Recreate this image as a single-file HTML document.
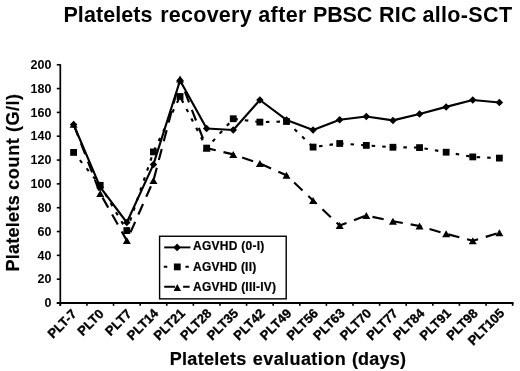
<!DOCTYPE html><html><head><meta charset="utf-8"><style>html,body{margin:0;padding:0;background:#fff;}svg{display:block;filter:grayscale(1);}</style></head><body><svg width="520" height="371" viewBox="0 0 520 371" font-family="'Liberation Sans', sans-serif" font-weight="bold">
<rect width="520" height="371" fill="#fff"/>
<text x="63.40" y="21.6" font-size="21.5" letter-spacing="0.087">Platelets</text>
<text x="160.20" y="21.6" font-size="21.5" letter-spacing="0.257">recovery</text>
<text x="258.20" y="21.6" font-size="21.5" letter-spacing="0.425">after</text>
<text x="313.00" y="21.6" font-size="21.5" letter-spacing="-0.133">PBSC</text>
<text x="379.05" y="21.6" font-size="21.5" letter-spacing="0.175">RIC</text>
<text x="422.40" y="21.6" font-size="21.5" letter-spacing="0.357">allo-SCT</text>
<text x="169.75" y="364.6" font-size="18" stroke="#000" stroke-width="0.2" letter-spacing="0.300">Platelets</text>
<text x="252.75" y="364.6" font-size="18" stroke="#000" stroke-width="0.2" letter-spacing="0.428">evaluation</text>
<text x="351.90" y="364.6" font-size="18" stroke="#000" stroke-width="0.2" letter-spacing="0.220">(days)</text>
<text transform="translate(18.9 271.55) rotate(-90)" font-size="18" stroke="#000" stroke-width="0.2" letter-spacing="0.275">Platelets</text>
<text transform="translate(18.9 189.85) rotate(-90)" font-size="18" stroke="#000" stroke-width="0.2" letter-spacing="0.675">count</text>
<text transform="translate(18.9 131.90) rotate(-90)" font-size="18" stroke="#000" stroke-width="0.2" letter-spacing="0.450">(G/l)</text>
<text x="51.4" y="307.25" font-size="12.5" text-anchor="end">0</text>
<text x="51.4" y="283.43" font-size="12.5" text-anchor="end">20</text>
<text x="51.4" y="259.60" font-size="12.5" text-anchor="end">40</text>
<text x="51.4" y="235.78" font-size="12.5" text-anchor="end">60</text>
<text x="51.4" y="211.95" font-size="12.5" text-anchor="end">80</text>
<text x="51.4" y="188.12" font-size="12.5" text-anchor="end">100</text>
<text x="51.4" y="164.30" font-size="12.5" text-anchor="end">120</text>
<text x="51.4" y="140.48" font-size="12.5" text-anchor="end">140</text>
<text x="51.4" y="116.65" font-size="12.5" text-anchor="end">160</text>
<text x="51.4" y="92.83" font-size="12.5" text-anchor="end">180</text>
<text x="51.4" y="69.00" font-size="12.5" text-anchor="end">200</text>
<text x="77.40" y="314.70" font-size="13" stroke="#000" stroke-width="0.35" text-anchor="end" transform="rotate(-45 77.40 314.70)">PLT-7</text>
<text x="104.61" y="314.60" font-size="13" stroke="#000" stroke-width="0.35" text-anchor="end" transform="rotate(-45 104.61 314.60)">PLT0</text>
<text x="132.43" y="314.60" font-size="13" stroke="#000" stroke-width="0.35" text-anchor="end" transform="rotate(-45 132.43 314.60)">PLT7</text>
<text x="159.24" y="314.00" font-size="13" stroke="#000" stroke-width="0.35" text-anchor="end" transform="rotate(-45 159.24 314.00)">PLT14</text>
<text x="185.85" y="314.00" font-size="13" stroke="#000" stroke-width="0.35" text-anchor="end" transform="rotate(-45 185.85 314.00)">PLT21</text>
<text x="212.45" y="314.00" font-size="13" stroke="#000" stroke-width="0.35" text-anchor="end" transform="rotate(-45 212.45 314.00)">PLT28</text>
<text x="239.06" y="314.00" font-size="13" stroke="#000" stroke-width="0.35" text-anchor="end" transform="rotate(-45 239.06 314.00)">PLT35</text>
<text x="265.68" y="314.00" font-size="13" stroke="#000" stroke-width="0.35" text-anchor="end" transform="rotate(-45 265.68 314.00)">PLT42</text>
<text x="292.29" y="314.00" font-size="13" stroke="#000" stroke-width="0.35" text-anchor="end" transform="rotate(-45 292.29 314.00)">PLT49</text>
<text x="318.89" y="314.00" font-size="13" stroke="#000" stroke-width="0.35" text-anchor="end" transform="rotate(-45 318.89 314.00)">PLT56</text>
<text x="345.50" y="314.00" font-size="13" stroke="#000" stroke-width="0.35" text-anchor="end" transform="rotate(-45 345.50 314.00)">PLT63</text>
<text x="372.12" y="314.00" font-size="13" stroke="#000" stroke-width="0.35" text-anchor="end" transform="rotate(-45 372.12 314.00)">PLT70</text>
<text x="398.73" y="314.00" font-size="13" stroke="#000" stroke-width="0.35" text-anchor="end" transform="rotate(-45 398.73 314.00)">PLT77</text>
<text x="425.34" y="314.00" font-size="13" stroke="#000" stroke-width="0.35" text-anchor="end" transform="rotate(-45 425.34 314.00)">PLT84</text>
<text x="451.94" y="314.00" font-size="13" stroke="#000" stroke-width="0.35" text-anchor="end" transform="rotate(-45 451.94 314.00)">PLT91</text>
<text x="478.56" y="314.00" font-size="13" stroke="#000" stroke-width="0.35" text-anchor="end" transform="rotate(-45 478.56 314.00)">PLT98</text>
<text x="505.17" y="314.00" font-size="13" stroke="#000" stroke-width="0.35" text-anchor="end" transform="rotate(-45 505.17 314.00)">PLT105</text>
<g stroke="#000" fill="none">
<path d="M60.3 64.2V305.8" stroke-width="1.7"/>
<path d="M56.8 303.00H60.3" stroke-width="1.6"/>
<path d="M56.8 279.18H60.3" stroke-width="1.6"/>
<path d="M56.8 255.35H60.3" stroke-width="1.6"/>
<path d="M56.8 231.53H60.3" stroke-width="1.6"/>
<path d="M56.8 207.70H60.3" stroke-width="1.6"/>
<path d="M56.8 183.88H60.3" stroke-width="1.6"/>
<path d="M56.8 160.05H60.3" stroke-width="1.6"/>
<path d="M56.8 136.23H60.3" stroke-width="1.6"/>
<path d="M56.8 112.40H60.3" stroke-width="1.6"/>
<path d="M56.8 88.58H60.3" stroke-width="1.6"/>
<path d="M56.8 64.75H60.3" stroke-width="1.6"/>
<path d="M56.8 303H513.5" stroke-width="2"/>
<path d="M60.30 303V305.8" stroke-width="1.6"/>
<path d="M86.91 303V305.8" stroke-width="1.6"/>
<path d="M113.52 303V305.8" stroke-width="1.6"/>
<path d="M140.13 303V305.8" stroke-width="1.6"/>
<path d="M166.74 303V305.8" stroke-width="1.6"/>
<path d="M193.35 303V305.8" stroke-width="1.6"/>
<path d="M219.96 303V305.8" stroke-width="1.6"/>
<path d="M246.57 303V305.8" stroke-width="1.6"/>
<path d="M273.18 303V305.8" stroke-width="1.6"/>
<path d="M299.79 303V305.8" stroke-width="1.6"/>
<path d="M326.40 303V305.8" stroke-width="1.6"/>
<path d="M353.01 303V305.8" stroke-width="1.6"/>
<path d="M379.62 303V305.8" stroke-width="1.6"/>
<path d="M406.23 303V305.8" stroke-width="1.6"/>
<path d="M432.84 303V305.8" stroke-width="1.6"/>
<path d="M459.45 303V305.8" stroke-width="1.6"/>
<path d="M486.06 303V305.8" stroke-width="1.6"/>
<path d="M512.67 303V305.8" stroke-width="1.6"/>
</g>
<g fill="none" stroke="#000" stroke-width="2.15" stroke-linejoin="round">
<polyline points="73.60,124.50 100.22,187.20 126.83,222.50 153.44,164.40 180.05,80.50 206.65,128.50 233.26,130.00 259.88,100.00 286.49,119.90 313.09,130.00 339.70,119.80 366.31,116.50 392.93,120.40 419.54,114.00 446.14,106.90 472.75,100.00 499.37,102.50"/>
<polyline points="73.60,152.40 100.22,185.30 126.83,230.60 153.44,151.90 180.05,96.50 206.65,148.10 233.26,118.75 259.88,122.10 286.49,121.50 313.09,147.10 339.70,143.50 366.31,145.40 392.93,147.25 419.54,147.60 446.14,152.20 472.75,156.90 499.37,158.10" stroke-dasharray="3.5 7.085" stroke-dashoffset="0.585"/>
<polyline points="73.60,124.25 100.22,193.50 126.83,240.60 153.44,180.60 180.05,79.00 206.65,148.10 233.26,154.40 259.88,163.50 286.49,175.30 313.09,200.50 339.70,225.50 366.31,215.50 392.93,221.25 419.54,226.00 446.14,233.80 472.75,240.80 499.37,232.80" stroke-dasharray="11.5 7.96" stroke-dashoffset="18.36"/>
</g>
<g fill="#000">
<path d="M73.60 120.75L77.35 124.50L73.60 128.25L69.85 124.50Z"/>
<path d="M100.22 183.45L103.97 187.20L100.22 190.95L96.47 187.20Z"/>
<path d="M126.83 218.75L130.57 222.50L126.83 226.25L123.08 222.50Z"/>
<path d="M153.44 160.65L157.19 164.40L153.44 168.15L149.69 164.40Z"/>
<path d="M180.05 76.75L183.80 80.50L180.05 84.25L176.30 80.50Z"/>
<path d="M206.65 124.75L210.40 128.50L206.65 132.25L202.90 128.50Z"/>
<path d="M233.26 126.25L237.01 130.00L233.26 133.75L229.51 130.00Z"/>
<path d="M259.88 96.25L263.62 100.00L259.88 103.75L256.12 100.00Z"/>
<path d="M286.49 116.15L290.24 119.90L286.49 123.65L282.74 119.90Z"/>
<path d="M313.09 126.25L316.84 130.00L313.09 133.75L309.34 130.00Z"/>
<path d="M339.70 116.05L343.45 119.80L339.70 123.55L335.95 119.80Z"/>
<path d="M366.31 112.75L370.06 116.50L366.31 120.25L362.56 116.50Z"/>
<path d="M392.93 116.65L396.68 120.40L392.93 124.15L389.18 120.40Z"/>
<path d="M419.54 110.25L423.29 114.00L419.54 117.75L415.79 114.00Z"/>
<path d="M446.14 103.15L449.89 106.90L446.14 110.65L442.39 106.90Z"/>
<path d="M472.75 96.25L476.50 100.00L472.75 103.75L469.00 100.00Z"/>
<path d="M499.37 98.75L503.12 102.50L499.37 106.25L495.62 102.50Z"/>
<rect x="70.20" y="149.00" width="6.8" height="6.8"/>
<rect x="96.81" y="181.90" width="6.8" height="6.8"/>
<rect x="123.42" y="227.20" width="6.8" height="6.8"/>
<rect x="150.03" y="148.50" width="6.8" height="6.8"/>
<rect x="176.65" y="93.10" width="6.8" height="6.8"/>
<rect x="203.25" y="144.70" width="6.8" height="6.8"/>
<rect x="229.86" y="115.35" width="6.8" height="6.8"/>
<rect x="256.48" y="118.70" width="6.8" height="6.8"/>
<rect x="283.09" y="118.10" width="6.8" height="6.8"/>
<rect x="309.69" y="143.70" width="6.8" height="6.8"/>
<rect x="336.31" y="140.10" width="6.8" height="6.8"/>
<rect x="362.92" y="142.00" width="6.8" height="6.8"/>
<rect x="389.53" y="143.85" width="6.8" height="6.8"/>
<rect x="416.14" y="144.20" width="6.8" height="6.8"/>
<rect x="442.75" y="148.80" width="6.8" height="6.8"/>
<rect x="469.36" y="153.50" width="6.8" height="6.8"/>
<rect x="495.97" y="154.70" width="6.8" height="6.8"/>
<path d="M73.60 120.75L77.60 127.75L69.60 127.75Z"/>
<path d="M100.22 190.00L104.22 197.00L96.22 197.00Z"/>
<path d="M126.83 237.10L130.82 244.10L122.83 244.10Z"/>
<path d="M153.44 177.10L157.44 184.10L149.44 184.10Z"/>
<path d="M180.05 75.50L184.05 82.50L176.05 82.50Z"/>
<path d="M206.65 144.60L210.65 151.60L202.65 151.60Z"/>
<path d="M233.26 150.90L237.26 157.90L229.26 157.90Z"/>
<path d="M259.88 160.00L263.88 167.00L255.88 167.00Z"/>
<path d="M286.49 171.80L290.49 178.80L282.49 178.80Z"/>
<path d="M313.09 197.00L317.09 204.00L309.09 204.00Z"/>
<path d="M339.70 222.00L343.70 229.00L335.70 229.00Z"/>
<path d="M366.31 212.00L370.31 219.00L362.31 219.00Z"/>
<path d="M392.93 217.75L396.93 224.75L388.93 224.75Z"/>
<path d="M419.54 222.50L423.54 229.50L415.54 229.50Z"/>
<path d="M446.14 230.30L450.14 237.30L442.14 237.30Z"/>
<path d="M472.75 237.30L476.75 244.30L468.75 244.30Z"/>
<path d="M499.37 229.30L503.37 236.30L495.37 236.30Z"/>
</g>
<rect x="159.6" y="236.25" width="126.6" height="62.6" fill="#fff" stroke="#000" stroke-width="1.4"/>
<g stroke="#000" stroke-width="1.9" fill="none">
<path d="M164.2 247.4H190.4"/>
<path d="M163.8 266.7H167.3M185.4 266.7H188.8"/>
<path d="M164.2 286.7H175M183.1 286.7H189.6"/>
</g><g fill="#000">
<path d="M177.10 243.60L180.90 247.40L177.10 251.20L173.30 247.40Z"/>
<rect x="173.90" y="263.50" width="6.8" height="6.8"/>
<path d="M177.30 284.10L181.00 290.90L173.60 290.90Z"/>
</g>
<text x="193.05" y="250.1" font-size="12" stroke="#000" stroke-width="0.2" letter-spacing="0.265">AGVHD (0-I)</text>
<text x="193.05" y="270.5" font-size="12" stroke="#000" stroke-width="0.2" letter-spacing="0.200">AGVHD (II)</text>
<text x="193.05" y="290.9" font-size="12" stroke="#000" stroke-width="0.2" letter-spacing="0.235">AGVHD (III-IV)</text>
</svg></body></html>
